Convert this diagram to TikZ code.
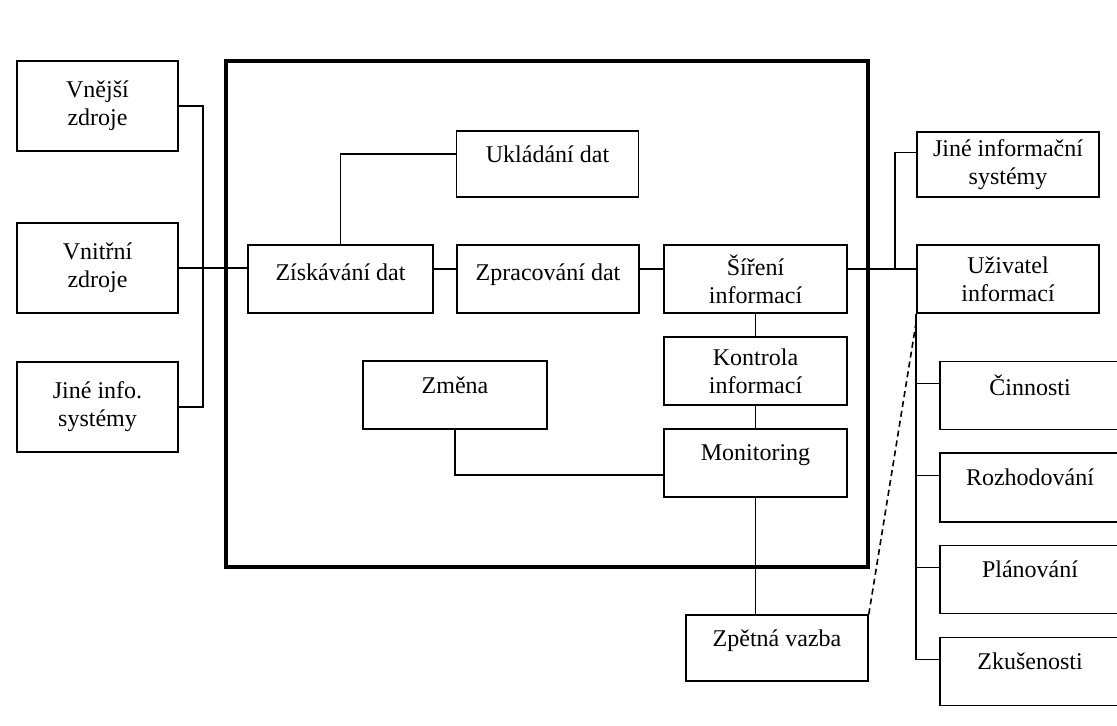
\documentclass[tikz,border=0pt]{standalone}
\usepackage{fontspec}
\setmainfont{Liberation Serif}
\usepackage{tikz}

\begin{document}
\begin{tikzpicture}[x=0.5pt, y=-0.5pt, font=\fontsize{12}{14}\selectfont, line width=0.8pt,
	box/.style={draw, align=center, inner sep=0pt, minimum width=91.5pt, minimum height=34pt},
	side/.style={box, minimum width=80.5pt, minimum height=45pt},
	oneline/.style={text depth=10pt}]
	\useasboundingbox (0,0) rectangle (1117,725);
	% system frame
	\draw[line width=2.2pt] (226,61) rectangle (868,567);
	
	% sources
	\node[side] (vnejsi) at (97.5,106) {Vnější\\zdroje};
	\node[side] (vnitrni) at (97.5,268) {Vnitřní\\zdroje};
	\node[side] (jineinfo) at (97.5,407) {Jiné info.\\systémy};
	
	% inside the system
	\node[box, oneline, text depth=7pt, minimum width=92.5pt] (ziskavani) at (340.5,279) {Získávání dat};
	\node[box, oneline, minimum width=91pt, minimum height=33pt] (ukladani) at (547.5,164) {Ukládání dat};
	\node[box, oneline, text depth=7pt, minimum width=91pt] (zpracovani) at (548,279) {Zpracování dat};
	\node[box] (sireni) at (755.5,279) {Šíření\\informací};
	\node[box] (kontrola) at (755.5,371) {Kontrola\\informací};
	\node[box, oneline] (monitoring) at (755.5,463) {Monitoring};
	\node[box, oneline, minimum width=92pt] (zmena) at (455,395) {Změna};
	\node[box, oneline, minimum width=91pt, minimum height=33pt] (zpetna) at (777,648) {Zpětná vazba};
	
	% users
	\node[box, minimum width=91pt, minimum height=32.5pt] (jineis) at (1008,164.5) {Jiné informační\\systémy};
	\node[box, minimum width=91pt] (uzivatel) at (1008,279) {Uživatel\\informací};
	\node[box, oneline, minimum width=90pt] (cinnosti) at (1030,395.5) {Činnosti};
	\node[box, oneline, minimum width=90pt, minimum height=34.5pt] (rozhodovani) at (1030,487.5) {Rozhodování};
	\node[box, oneline, minimum width=90pt] (planovani) at (1030,579.5) {Plánování};
	\node[box, oneline, minimum width=90pt] (zkusenosti) at (1030,671.5) {Zkušenosti};
	
	\coordinate (rbus) at (895,269);
	\coordinate (fb) at (916,323);
	
	\draw (vnejsi.east) -- ++(24,0) |- (jineinfo.east);
	\draw (vnitrni.east) -- (vnitrni.east -| ziskavani.west);
	
	\draw (ziskavani.north) |- ([yshift=5pt]ukladani.west);
	\draw ([yshift=5pt]ziskavani.east) -- ([yshift=5pt]zpracovani.west);
	\draw ([yshift=5pt]zpracovani.east) -- ([yshift=5pt]sireni.west);
	\draw ([yshift=5pt]sireni.east) -- ([yshift=5pt]uzivatel.west);
	\draw (rbus) |- ([yshift=6pt]jineis.west);
	
	\draw (sireni) to (kontrola);
	\draw (kontrola) to (monitoring);
	\draw (zmena.south) |- ([yshift=-6pt]monitoring.west);
	\draw (monitoring.south) -- (monitoring.south |- zpetna.north);
	\draw[densely dashed] (zpetna.north east) -- (fb);
	
	\draw (uzivatel.south west) |- ([yshift=6pt]zkusenosti.west);
	\foreach \n in {cinnosti, rozhodovani, planovani}
		\draw ([yshift=6pt]\n.west) -- ++(-23,0);
\end{tikzpicture}
\end{document}
